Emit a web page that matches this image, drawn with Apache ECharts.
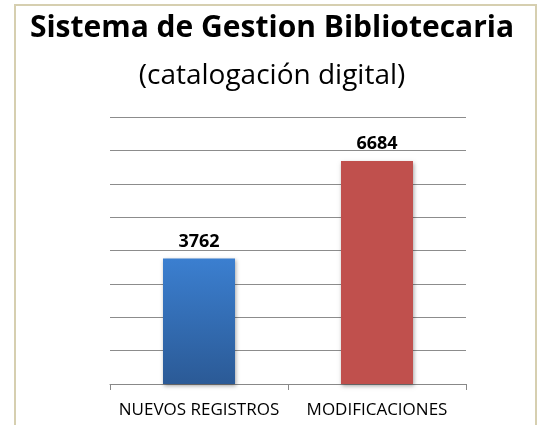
<!DOCTYPE html>
<html>
<head>
<meta charset="utf-8">
<script src="https://cdn.jsdelivr.net/npm/echarts@6/dist/echarts.min.js"></script>
<style>
  html, body { margin: 0; padding: 0; background: #fff; }
  #bar { width: 544px; height: 425px; }
</style>
</head>
<body>
<div id="bar"></div>
<script>
// datos del grafico
const categorias = ['NUEVOS REGISTROS', 'MODIFICACIONES'];
const valores = [3762, 6684];
const colores = [
    new echarts.graphic.LinearGradient(0, 0, 0, 1, [
        { offset: 0, color: '#3b7fd0' },
        { offset: 1, color: '#2b5a96' }
    ]),
    '#c0504d'
];

let myChart = echarts.init(document.getElementById('bar'));

myChart.setOption({
    animation: false,
    backgroundColor: '#fff',
    title: [{
        text: 'Sistema de Gestion Bibliotecaria',
        left: 'center',
        top: 8,
        textStyle: { fontFamily: 'Open Sans', fontWeight: 'bold', fontSize: 30, color: '#000' }
    }, {
        text: '(catalogación digital)',
        left: 'center',
        top: 57,
        textStyle: { fontFamily: 'Open Sans', fontWeight: 'normal', fontSize: 28, color: '#000' }
    }],
    graphic: [{
        type: 'rect',
        shape: { x: 15, y: 5, width: 521, height: 430 },
        style: { fill: 'none', stroke: '#d6cfb0', lineWidth: 2 },
        silent: true
    }],
    grid: { left: 110, right: 78, top: 117, bottom: 41 },
    xAxis: {
        type: 'category',
        data: categorias,
        axisLine: { lineStyle: { color: '#888', width: 1 } },
        axisTick: { show: true, length: 6, lineStyle: { color: '#888' } },
        axisLabel: { interval: 0, fontFamily: 'Open Sans', fontSize: 17, color: '#000', margin: 18 }
    },
    yAxis: {
        type: 'value',
        min: 0,
        max: 8000,
        interval: 1000,
        axisLabel: { show: false },
        axisLine: { show: false },
        axisTick: { show: false },
        splitLine: { lineStyle: { color: '#8c8c8c', width: 1 } }
    },
    series: [{
        type: 'bar',
        barWidth: 72,
        data: valores.map((v, i) => ({ value: v, itemStyle: { color: colores[i] } })),
        itemStyle: {
            shadowBlur: 4,
            shadowColor: 'rgba(0,0,0,0.35)',
            shadowOffsetX: 1,
            shadowOffsetY: 2
        },
        label: {
            show: true,
            position: 'top',
            distance: 8,
            fontFamily: 'Open Sans',
            fontWeight: 'bold',
            fontSize: 18,
            color: '#000'
        }
    }]
});
</script>
</body>
</html>
